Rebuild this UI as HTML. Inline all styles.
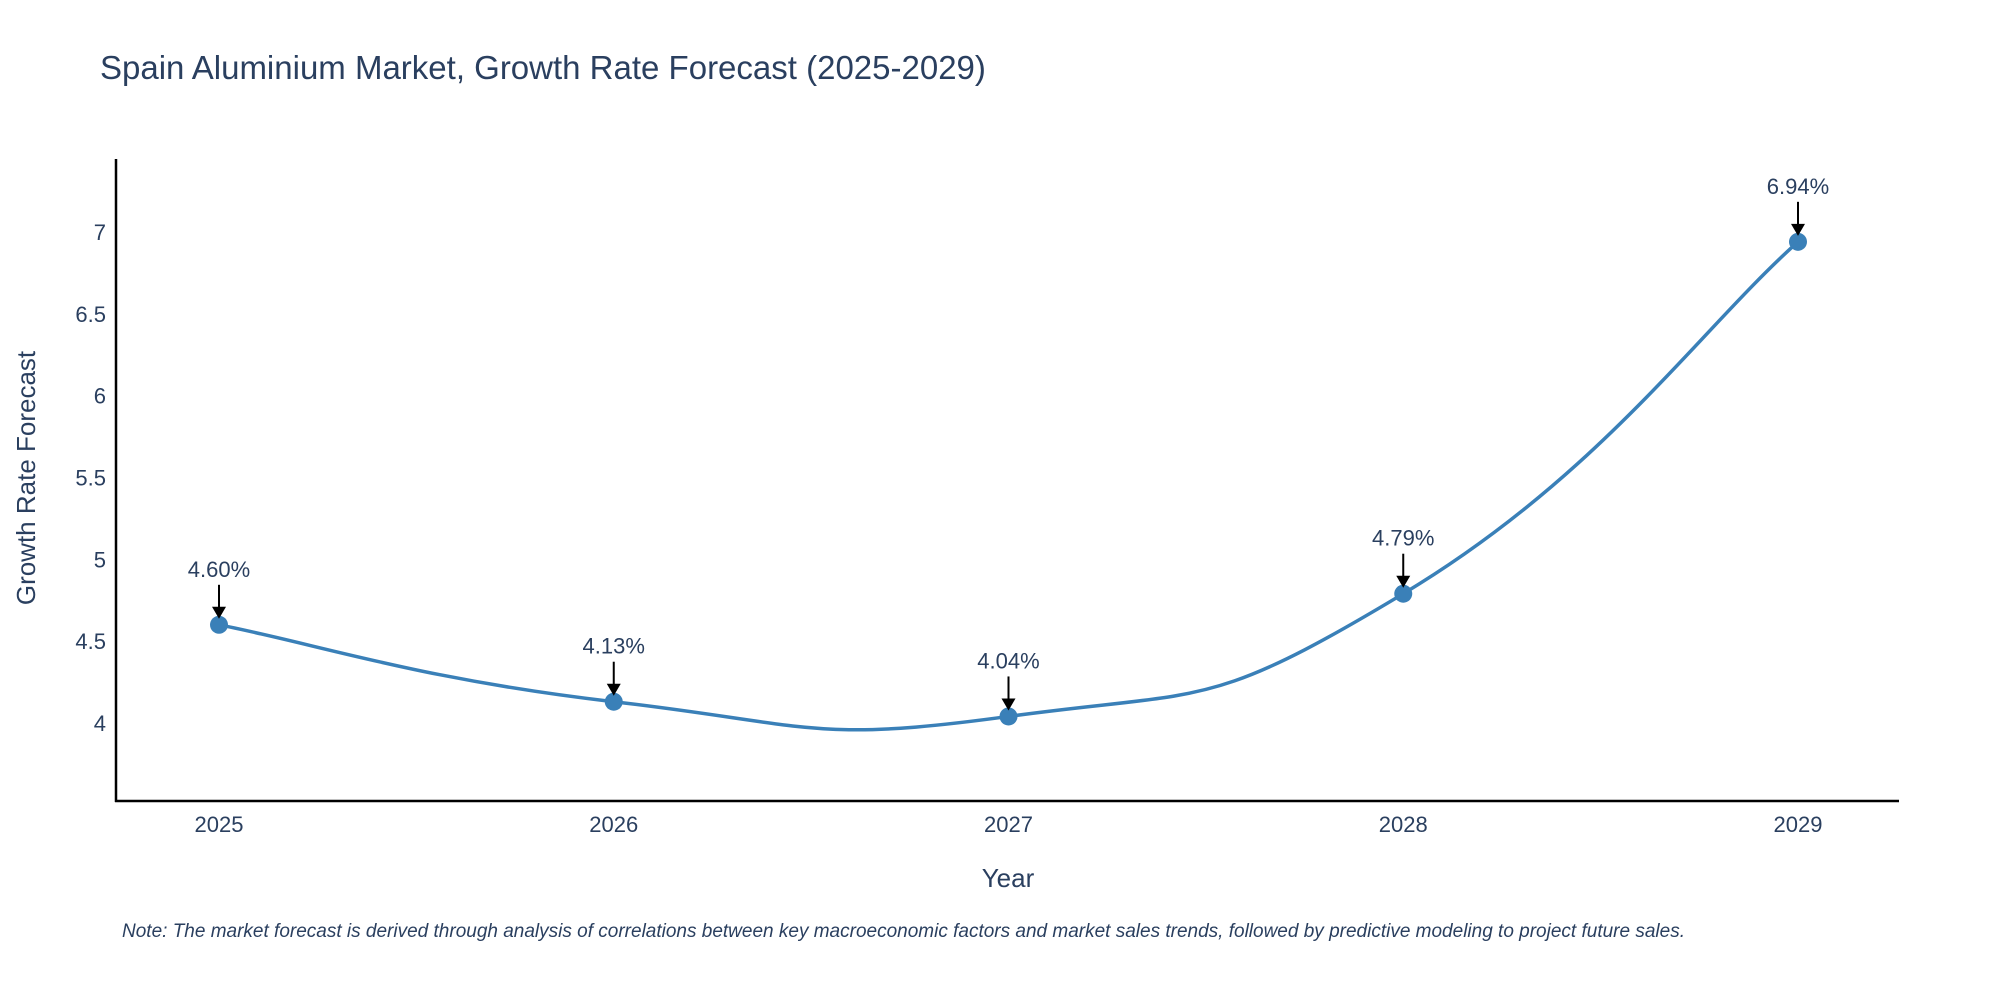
<!DOCTYPE html>
<html><head><meta charset="utf-8"><style>
body{margin:0;background:#fff;}
svg text{font-family:"Liberation Sans","DejaVu Sans",sans-serif;}
</style></head><body>
<svg id="chart" width="2000" height="1000" xmlns="http://www.w3.org/2000/svg">
<text x="100" y="79" font-size="33" fill="#2a3f5f">Spain Aluminium Market, Growth Rate Forecast (2025-2029)</text>
<g id="yticks"></g>
<g id="xticks"></g>
<line x1="116" y1="159" x2="116" y2="802" stroke="#000" stroke-width="2.5"/>
<line x1="115" y1="801" x2="1899" y2="801" stroke="#000" stroke-width="2.5"/>
<path id="line" fill="none" stroke="#3a80b8" stroke-width="3.5"/>
<g id="marks"></g>
<text x="1008" y="887" font-size="26" fill="#2a3f5f" text-anchor="middle">Year</text>
<text transform="translate(35,478) rotate(-90)" font-size="26" fill="#2a3f5f" text-anchor="middle">Growth Rate Forecast</text>
<text x="122" y="937" font-size="19" font-style="italic" fill="#2a3f5f">Note: The market forecast is derived through analysis of correlations between key macroeconomic factors and market sales trends, followed by predictive modeling to project future sales.</text>
</svg>
<script>
const years=[2025,2026,2027,2028,2029];
const values=[4.60,4.13,4.04,4.79,6.94];
const labels=["4.60%","4.13%","4.04%","4.79%","6.94%"];
const yTicks=[4,4.5,5,5.5,6,6.5,7];
const yTickLabels=["4","4.5","5","5.5","6","6.5","7"];
const NS="http://www.w3.org/2000/svg";
const xs=y=>219+(y-2025)*(1798-219)/4;
const ys=v=>723-(v-4)*(723-232)/3;
function mk(t,a,p){const e=document.createElementNS(NS,t);for(const k in a)e.setAttribute(k,a[k]);p.appendChild(e);return e;}
const yt=document.getElementById('yticks');
yTicks.forEach((v,i)=>{const t=mk('text',{x:106,y:ys(v)+8,'font-size':22,fill:'#2a3f5f','text-anchor':'end'},yt);


t.textContent=yTickLabels[i];});
const xt=document.getElementById('xticks');
years.forEach(y=>{const t=mk('text',{x:xs(y),y:832,'font-size':22,fill:'#2a3f5f','text-anchor':'middle'},xt);


t.textContent=y;});
const P=years.map((y,i)=>[xs(y),ys(values[i])]);
let d=`M${P[0][0]},${P[0][1]}`;const s=0.25;
for(let i=0;i<P.length-1;i++){const p0=P[Math.max(0,i-1)],p1=P[i],p2=P[i+1],p3=P[Math.min(P.length-1,i+2)];
const c1=[p1[0]+(p2[0]-p0[0])*s,p1[1]+(p2[1]-p0[1])*s],c2=[p2[0]-(p3[0]-p1[0])*s,p2[1]-(p3[1]-p1[1])*s];
d+=` C${c1[0]},${c1[1]} ${c2[0]},${c2[1]} ${p2[0]},${p2[1]}`;}
document.getElementById('line').setAttribute('d',d);
const g=document.getElementById('marks');
P.forEach((p,i)=>{const c=mk('circle',{cx:p[0],cy:p[1],r:9,fill:'#3a80b8'},g);


const l=mk('line',{x1:p[0],y1:p[1]-40,x2:p[0],y2:p[1]-16,stroke:'#000','stroke-width':2},g);


const a=mk('polygon',{points:`${p[0]-7},${p[1]-18} ${p[0]+7},${p[1]-18} ${p[0]},${p[1]-6}`,fill:'#000'},g);


const t=mk('text',{x:p[0],y:p[1]-48,'font-size':22,fill:'#2a3f5f','text-anchor':'middle'},g);


t.textContent=labels[i];});
</script>
</body></html>
